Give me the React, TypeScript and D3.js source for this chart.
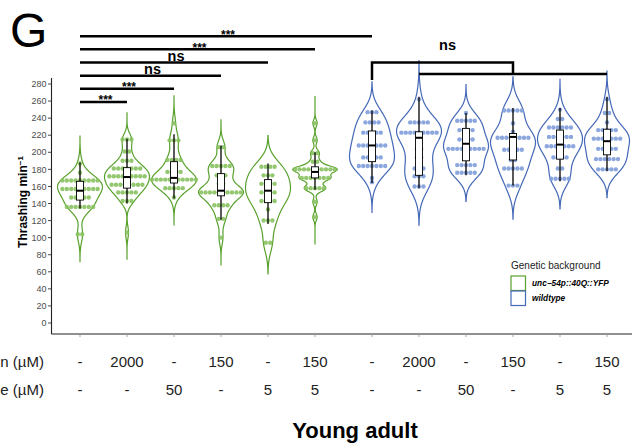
import * as d3 from 'd3';
import React from 'react';

// genetic backgrounds (legend order)
const genotypes = ['unc−54p::40Q::YFP', 'wildtype'];

// treatment table under the x axis
const firstRowLabels = ['-', '2000', '-', '150', '-', '150', '-', '2000', '-', '150', '-', '150'];
const secondRowLabels = ['-', '-', '50', '-', '5', '5', '-', '-', '50', '-', '5', '5'];
const firstRowTitle = 'n (µM)';
const secondRowTitle = 'e (µM)';

const yTickValues = [0, 20, 40, 60, 80, 100, 120, 140, 160, 180, 200, 220, 240, 260, 280];

// dot rows per violin: [thrashes/min, number of worms]
const dotsG1 = [[187, 1], [176, 1], [167, 9], [157, 9], [147, 5], [136, 7], [104, 2]];
const dotsG2 = [[215, 3], [201, 2], [190, 3], [181, 7], [172, 9], [162, 8], [153, 5], [143, 3], [106, 1]];
const dotsG3 = [[234, 1], [214, 3], [191, 4], [177, 4], [168, 11], [158, 5], [147, 1]];
const dotsG4 = [[206, 2], [184, 5], [173, 3], [163, 2], [153, 10], [138, 4], [122, 2], [100, 1]];
const dotsG5 = [[183, 4], [173, 3], [163, 4], [153, 4], [143, 4], [133, 1], [120, 3], [94, 2]];
const dotsG6 = [[234, 1], [214, 1], [199, 2], [189, 2], [180, 10], [170, 7], [158, 5], [142, 1], [124, 1]];
const dotsB1 = [[247, 3], [235, 4], [223, 5], [208, 7], [194, 5], [184, 7], [170, 1], [165, 1]];
const dotsB2 = [[262, 1], [235, 5], [223, 9], [204, 2], [194, 2], [181, 3], [172, 3], [160, 3]];
const dotsB3 = [[246, 1], [237, 5], [226, 4], [215, 4], [204, 9], [185, 5], [176, 5]];
const dotsB4 = [[249, 5], [234, 1], [224, 1], [217, 8], [203, 5], [191, 2], [181, 5], [161, 3]];
const dotsB5 = [[250, 1], [239, 2], [229, 6], [218, 6], [207, 7], [194, 4], [181, 2], [169, 5]];
const dotsB6 = [[262, 1], [246, 2], [235, 1], [226, 5], [216, 7], [204, 5], [192, 6], [180, 5]];
const dotRows = [dotsG1, dotsG2, dotsG3, dotsG4, dotsG5, dotsG6, dotsB1, dotsB2, dotsB3, dotsB4, dotsB5, dotsB6];

// box plots
const q1s = [144, 158, 164, 149, 141, 170, 189, 173, 190, 191, 192, 197];
const medians = [155, 171, 170, 155, 155, 177, 208, 217, 210, 218, 209, 213];
const q3s = [166, 182, 189, 175, 168, 183, 225, 224, 228, 222, 226, 227];
const whiskerLows = [134, 140, 146, 121, 116, 156, 164, 158, 173, 161, 166, 178];
const whiskerHighs = [188, 216, 221, 208, 187, 200, 249, 265, 246, 252, 252, 265];

// comparisons against the first violin
const sigTargets = [6, 5, 4, 3, 2, 1];
const sigLabels = ['***', '***', 'ns', 'ns', '***', '***'];
const bracketLabel = 'ns';

const lineColors = ['#58a12c', '#4468b6'];
const dotColors = ['#88c260', '#7f9dd9'];
const font = 'Liberation Sans, Arial, Helvetica, sans-serif';

function nrd0(values: number[]) {
  const s = values.slice().sort(d3.ascending);
  const sd = d3.deviation(s) || 1;
  const iqr = (d3.quantile(s, 0.75) as number) - (d3.quantile(s, 0.25) as number);
  const lo = Math.min(sd, iqr > 0 ? iqr / 1.34 : sd);
  return 0.9 * lo * Math.pow(s.length, -0.2);
}

function violinShape(values: number[]) {
  const bw = nrd0(values) * 1.15;
  const ext = Math.max(3 * bw, 32);
  const lo = d3.min(values)! - ext;
  const hi = d3.max(values)! + ext;
  const grid = d3.range(0, 141).map((i) => lo + ((hi - lo) * i) / 140);
  return grid.map((y) => {
    const d = d3.mean(values, (v) => Math.exp(-0.5 * ((y - v) / bw) ** 2)) as number;
    return [y, d] as [number, number];
  });
}

export default function App() {
  const width = 632;
  const height = 445;
  const axisX = 51.5;
  const axisBottom = 334;

  const yScale = d3.scaleLinear().domain([0, 280]).range([323, 84]);
  const outer = d3.scalePoint<string>().domain(genotypes).range([197.5, 489.5]);
  const inner = d3.scalePoint<number>().domain(d3.range(6)).range([-117.5, 117.5]);
  const xOf = (i: number) => (outer(genotypes[Math.floor(i / 6)]) as number) + (inner(i % 6) as number);

  const halfWidth = 22.5;
  const dotR = 2.2;
  const pitch = 4.4;
  const boxW = 7;

  const sigLevel = (k: number) => yScale(336 - k * 15.4);

  return (
    <svg width={width} height={height} style={{ position: 'absolute', left: 0, top: 0, background: '#fff' }} fontFamily={font}>
      <text x={10} y={47} fontSize={48} fill="#000">G</text>

      {/* violins */}
      {dotRows.map((rows, i) => {
        const g = Math.floor(i / 6);
        const cx = xOf(i);
        const values = rows.flatMap(([v, n]) => d3.range(n).map(() => v));
        const shape = violinShape(values);
        const maxD = d3.max(shape, (d) => d[1]) as number;
        const w = d3.scaleLinear().domain([0, maxD]).range([0, halfWidth]);
        const area = d3
          .area<[number, number]>()
          .curve(d3.curveBasis)
          .y((d) => yScale(d[0]))
          .x0((d) => cx - w(d[1]))
          .x1((d) => cx + w(d[1]));
        return (
          <g key={'v' + i}>
            <path d={area(shape) || ''} fill="none" stroke={lineColors[g]} strokeWidth={1.2} />
            {rows.map(([v, n], r) =>
              d3.range(n).map((j) => (
                <circle
                  key={r + '-' + j}
                  cx={cx + (j - (n - 1) / 2) * pitch}
                  cy={yScale(v)}
                  r={dotR}
                  fill={dotColors[g]}
                  fillOpacity={0.9}
                />
              ))
            )}
            <line x1={cx} x2={cx} y1={yScale(whiskerLows[i])} y2={yScale(whiskerHighs[i])} stroke="#000" strokeWidth={1.3} />
            <rect
              x={cx - boxW / 2}
              y={yScale(q3s[i])}
              width={boxW}
              height={yScale(q1s[i]) - yScale(q3s[i])}
              fill="#fff"
              stroke="#000"
              strokeWidth={0.9}
            />
            <line x1={cx - boxW / 2} x2={cx + boxW / 2} y1={yScale(medians[i])} y2={yScale(medians[i])} stroke="#000" strokeWidth={2} />
          </g>
        );
      })}

      {/* axes */}
      <line x1={axisX} x2={axisX} y1={yScale(287)} y2={axisBottom} stroke="#222" strokeWidth={1.1} />
      <line x1={axisX} x2={width} y1={axisBottom} y2={axisBottom} stroke="#222" strokeWidth={1.1} />
      {yTickValues.map((t) => (
        <g key={'yt' + t}>
          <line x1={axisX - 3.5} x2={axisX} y1={yScale(t)} y2={yScale(t)} stroke="#333" strokeWidth={0.9} />
          <text x={axisX - 5} y={yScale(t)} dy="0.35em" textAnchor="end" fontSize={9} fill="#4d4d4d">
            {t}
          </text>
        </g>
      ))}
      {firstRowLabels.map((_, i) => (
        <line key={'xt' + i} x1={xOf(i)} x2={xOf(i)} y1={axisBottom} y2={axisBottom + 3} stroke="#999" strokeWidth={0.9} />
      ))}
      <text transform="translate(27,202) rotate(-90)" textAnchor="middle" fontSize={12} fontWeight="bold" fill="#000">
        Thrashing min<tspan dy={-4.5} fontSize={8}>−1</tspan>
      </text>

      {/* treatment table */}
      <text x={44} y={367} textAnchor="end" fontSize={15} fill="#222">{firstRowTitle}</text>
      <text x={44} y={395} textAnchor="end" fontSize={15} fill="#222">{secondRowTitle}</text>
      {firstRowLabels.map((l, i) => (
        <text key={'r1' + i} x={xOf(i)} y={367} textAnchor="middle" fontSize={15} fill="#222">{l}</text>
      ))}
      {secondRowLabels.map((l, i) => (
        <text key={'r2' + i} x={xOf(i)} y={395} textAnchor="middle" fontSize={15} fill="#222">{l}</text>
      ))}
      <text x={355} y={438} textAnchor="middle" fontSize={22} fontWeight="bold" fill="#000">Young adult</text>

      {/* significance bars */}
      {sigTargets.map((t, k) => {
        const y = sigLevel(k);
        const x1 = xOf(0);
        const x2 = xOf(t);
        const star = sigLabels[k] === '***';
        return (
          <g key={'s' + k}>
            <line x1={x1} x2={x2} y1={y} y2={y} stroke="#000" strokeWidth={2.5} />
            <text
              x={(x1 + x2) / 2 + 2}
              y={star ? y + 2.5 : y - 1.5}
              textAnchor="middle"
              fontSize={star ? 12 : 14.5}
              fontWeight="bold"
              fill="#000"
            >
              {sigLabels[k]}
            </text>
          </g>
        );
      })}
      {(() => {
        const top = sigLevel(2);
        const low = yScale(291.7);
        const left = xOf(6);
        const mid = xOf(9);
        return (
          <g stroke="#000" strokeWidth={2.5} fill="none">
            <path d={`M${left},${yScale(284.7)}V${top}H${mid}V${low}`} />
            <line x1={xOf(7)} x2={xOf(11)} y1={low} y2={low} />
            <text x={(left + mid) / 2 + 5} y={top - 12} textAnchor="middle" fontSize={14.5} fontWeight="bold" fill="#000" stroke="none">
              {bracketLabel}
            </text>
          </g>
        );
      })()}

      {/* legend */}
      <text x={511} y={268.5} fontSize={10} fill="#222">Genetic background</text>
      {genotypes.map((gt, i) => (
        <g key={'lg' + i}>
          <rect x={511} y={276 + i * 15} width={14.5} height={14.5} fill="#fff" stroke={lineColors[i]} strokeWidth={1.2} />
          <text x={532} y={286 + i * 15} fontSize={8.3} fontWeight="bold" fontStyle="italic" fill="#000">
            {gt}
          </text>
        </g>
      ))}
    </svg>
  );
}
